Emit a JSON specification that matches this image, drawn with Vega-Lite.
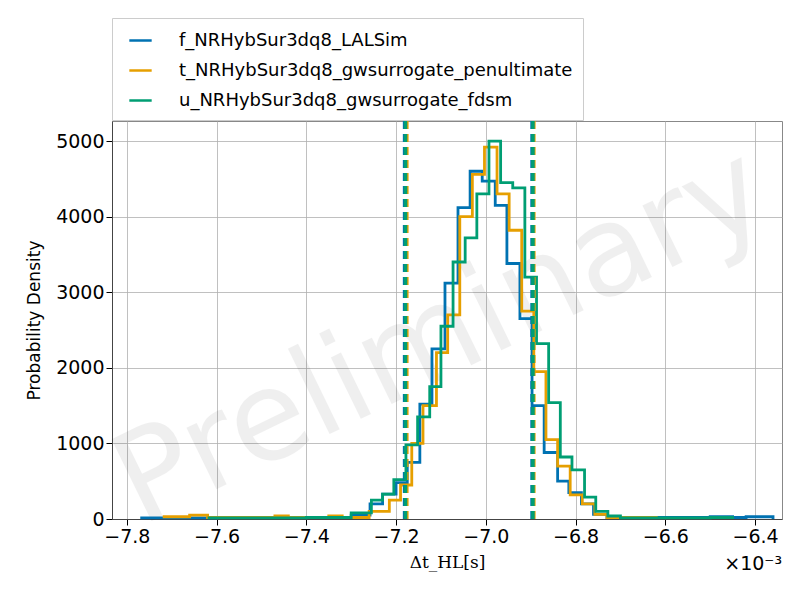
{
  "$schema": "https://vega.github.io/schema/vega-lite/v6.json",
  "width": 670,
  "height": 398,
  "autosize": "none",
  "padding": {"left": 112, "top": 121, "right": 18, "bottom": 81},
  "background": "white",
  "config": {"font": "DejaVu Sans", "view": {"stroke": "#888"},
    "axis": {"grid": true, "gridColor": "#b0b0b0", "gridWidth": 0.8, "labelFontSize": 19, "labelColor": "#000", "domainColor": "#444", "tickColor": "#000", "tickSize": 6, "titleFontWeight": "normal", "titleColor": "#000"}},
  "datasets": {
    "hist": [
      {"s": "f_NRHybSur3dq8_LALSim", "x": -7.77, "y": 15}, {"s": "f_NRHybSur3dq8_LALSim", "x": -7.60, "y": 20}, {"s": "f_NRHybSur3dq8_LALSim", "x": -7.45, "y": 20}, {"s": "f_NRHybSur3dq8_LALSim", "x": -7.30, "y": 50},
      {"s": "f_NRHybSur3dq8_LALSim", "x": -7.258, "y": 200}, {"s": "f_NRHybSur3dq8_LALSim", "x": -7.23, "y": 330}, {"s": "f_NRHybSur3dq8_LALSim", "x": -7.20, "y": 480}, {"s": "f_NRHybSur3dq8_LALSim", "x": -7.175, "y": 750},
      {"s": "f_NRHybSur3dq8_LALSim", "x": -7.147, "y": 1520}, {"s": "f_NRHybSur3dq8_LALSim", "x": -7.12, "y": 2250}, {"s": "f_NRHybSur3dq8_LALSim", "x": -7.091, "y": 3120}, {"s": "f_NRHybSur3dq8_LALSim", "x": -7.062, "y": 4120},
      {"s": "f_NRHybSur3dq8_LALSim", "x": -7.035, "y": 4600}, {"s": "f_NRHybSur3dq8_LALSim", "x": -7.008, "y": 4470}, {"s": "f_NRHybSur3dq8_LALSim", "x": -6.979, "y": 4150}, {"s": "f_NRHybSur3dq8_LALSim", "x": -6.953, "y": 3380},
      {"s": "f_NRHybSur3dq8_LALSim", "x": -6.924, "y": 2650}, {"s": "f_NRHybSur3dq8_LALSim", "x": -6.897, "y": 1500}, {"s": "f_NRHybSur3dq8_LALSim", "x": -6.87, "y": 880}, {"s": "f_NRHybSur3dq8_LALSim", "x": -6.84, "y": 500},
      {"s": "f_NRHybSur3dq8_LALSim", "x": -6.815, "y": 350}, {"s": "f_NRHybSur3dq8_LALSim", "x": -6.787, "y": 200}, {"s": "f_NRHybSur3dq8_LALSim", "x": -6.76, "y": 60}, {"s": "f_NRHybSur3dq8_LALSim", "x": -6.73, "y": 20},
      {"s": "f_NRHybSur3dq8_LALSim", "x": -6.55, "y": 20}, {"s": "f_NRHybSur3dq8_LALSim", "x": -6.50, "y": 30}, {"s": "f_NRHybSur3dq8_LALSim", "x": -6.45, "y": 20}, {"s": "f_NRHybSur3dq8_LALSim", "x": -6.42, "y": 30}, {"s": "f_NRHybSur3dq8_LALSim", "x": -6.36, "y": 0},

      {"s": "t_NRHybSur3dq8_gwsurrogate_penultimate", "x": -7.72, "y": 30}, {"s": "t_NRHybSur3dq8_gwsurrogate_penultimate", "x": -7.66, "y": 50}, {"s": "t_NRHybSur3dq8_gwsurrogate_penultimate", "x": -7.62, "y": 20}, {"s": "t_NRHybSur3dq8_gwsurrogate_penultimate", "x": -7.47, "y": 40},
      {"s": "t_NRHybSur3dq8_gwsurrogate_penultimate", "x": -7.44, "y": 20}, {"s": "t_NRHybSur3dq8_gwsurrogate_penultimate", "x": -7.35, "y": 40}, {"s": "t_NRHybSur3dq8_gwsurrogate_penultimate", "x": -7.32, "y": 20}, {"s": "t_NRHybSur3dq8_gwsurrogate_penultimate", "x": -7.26, "y": 100},
      {"s": "t_NRHybSur3dq8_gwsurrogate_penultimate", "x": -7.215, "y": 250}, {"s": "t_NRHybSur3dq8_gwsurrogate_penultimate", "x": -7.19, "y": 450}, {"s": "t_NRHybSur3dq8_gwsurrogate_penultimate", "x": -7.165, "y": 1000}, {"s": "t_NRHybSur3dq8_gwsurrogate_penultimate", "x": -7.14, "y": 1500},
      {"s": "t_NRHybSur3dq8_gwsurrogate_penultimate", "x": -7.11, "y": 2200}, {"s": "t_NRHybSur3dq8_gwsurrogate_penultimate", "x": -7.085, "y": 2700}, {"s": "t_NRHybSur3dq8_gwsurrogate_penultimate", "x": -7.058, "y": 4000}, {"s": "t_NRHybSur3dq8_gwsurrogate_penultimate", "x": -7.03, "y": 4560},
      {"s": "t_NRHybSur3dq8_gwsurrogate_penultimate", "x": -7.003, "y": 4920}, {"s": "t_NRHybSur3dq8_gwsurrogate_penultimate", "x": -6.975, "y": 4300}, {"s": "t_NRHybSur3dq8_gwsurrogate_penultimate", "x": -6.948, "y": 3820}, {"s": "t_NRHybSur3dq8_gwsurrogate_penultimate", "x": -6.92, "y": 2750},
      {"s": "t_NRHybSur3dq8_gwsurrogate_penultimate", "x": -6.893, "y": 1950}, {"s": "t_NRHybSur3dq8_gwsurrogate_penultimate", "x": -6.866, "y": 1050}, {"s": "t_NRHybSur3dq8_gwsurrogate_penultimate", "x": -6.84, "y": 700}, {"s": "t_NRHybSur3dq8_gwsurrogate_penultimate", "x": -6.812, "y": 320},
      {"s": "t_NRHybSur3dq8_gwsurrogate_penultimate", "x": -6.785, "y": 200}, {"s": "t_NRHybSur3dq8_gwsurrogate_penultimate", "x": -6.757, "y": 60}, {"s": "t_NRHybSur3dq8_gwsurrogate_penultimate", "x": -6.73, "y": 20}, {"s": "t_NRHybSur3dq8_gwsurrogate_penultimate", "x": -6.62, "y": 0},

      {"s": "u_NRHybSur3dq8_gwsurrogate_fdsm", "x": -7.62, "y": 15}, {"s": "u_NRHybSur3dq8_gwsurrogate_fdsm", "x": -7.40, "y": 20}, {"s": "u_NRHybSur3dq8_gwsurrogate_fdsm", "x": -7.30, "y": 80}, {"s": "u_NRHybSur3dq8_gwsurrogate_fdsm", "x": -7.255, "y": 250},
      {"s": "u_NRHybSur3dq8_gwsurrogate_fdsm", "x": -7.23, "y": 330}, {"s": "u_NRHybSur3dq8_gwsurrogate_fdsm", "x": -7.205, "y": 520}, {"s": "u_NRHybSur3dq8_gwsurrogate_fdsm", "x": -7.178, "y": 980}, {"s": "u_NRHybSur3dq8_gwsurrogate_fdsm", "x": -7.152, "y": 1350},
      {"s": "u_NRHybSur3dq8_gwsurrogate_fdsm", "x": -7.125, "y": 1750}, {"s": "u_NRHybSur3dq8_gwsurrogate_fdsm", "x": -7.1, "y": 2550}, {"s": "u_NRHybSur3dq8_gwsurrogate_fdsm", "x": -7.073, "y": 3400}, {"s": "u_NRHybSur3dq8_gwsurrogate_fdsm", "x": -7.046, "y": 3720},
      {"s": "u_NRHybSur3dq8_gwsurrogate_fdsm", "x": -7.02, "y": 4300}, {"s": "u_NRHybSur3dq8_gwsurrogate_fdsm", "x": -6.993, "y": 5000}, {"s": "u_NRHybSur3dq8_gwsurrogate_fdsm", "x": -6.967, "y": 4450}, {"s": "u_NRHybSur3dq8_gwsurrogate_fdsm", "x": -6.94, "y": 4380},
      {"s": "u_NRHybSur3dq8_gwsurrogate_fdsm", "x": -6.913, "y": 3200}, {"s": "u_NRHybSur3dq8_gwsurrogate_fdsm", "x": -6.887, "y": 2320}, {"s": "u_NRHybSur3dq8_gwsurrogate_fdsm", "x": -6.86, "y": 1540}, {"s": "u_NRHybSur3dq8_gwsurrogate_fdsm", "x": -6.834, "y": 820},
      {"s": "u_NRHybSur3dq8_gwsurrogate_fdsm", "x": -6.808, "y": 650}, {"s": "u_NRHybSur3dq8_gwsurrogate_fdsm", "x": -6.78, "y": 290}, {"s": "u_NRHybSur3dq8_gwsurrogate_fdsm", "x": -6.755, "y": 100}, {"s": "u_NRHybSur3dq8_gwsurrogate_fdsm", "x": -6.728, "y": 40},
      {"s": "u_NRHybSur3dq8_gwsurrogate_fdsm", "x": -6.70, "y": 15}, {"s": "u_NRHybSur3dq8_gwsurrogate_fdsm", "x": -6.50, "y": 20}, {"s": "u_NRHybSur3dq8_gwsurrogate_fdsm", "x": -6.45, "y": 0}
    ],
    "vlines": [
      {"s": "f_NRHybSur3dq8_LALSim", "x": -7.181}, {"s": "t_NRHybSur3dq8_gwsurrogate_penultimate", "x": -7.176}, {"s": "u_NRHybSur3dq8_gwsurrogate_fdsm", "x": -7.179},
      {"s": "f_NRHybSur3dq8_LALSim", "x": -6.897}, {"s": "t_NRHybSur3dq8_gwsurrogate_penultimate", "x": -6.893}, {"s": "u_NRHybSur3dq8_gwsurrogate_fdsm", "x": -6.895}
    ],
    "wm": [{"x": -7.1, "y": 2400, "t": "Preliminary"}]
  },
  "layer": [
    {
      "data": {"name": "wm"},
      "mark": {"type": "text", "fontSize": 125, "angle": 334, "color": "#000", "opacity": 0.06, "font": "DejaVu Sans"},
      "encoding": {"x": {"field": "x", "type": "quantitative"}, "y": {"field": "y", "type": "quantitative"}, "text": {"field": "t"}}
    },
    {
      "data": {"name": "hist"},
      "mark": {"type": "line", "interpolate": "step-after", "strokeWidth": 2.8},
      "encoding": {
        "x": {"field": "x", "type": "quantitative", "scale": {"domain": [-7.833, -6.34], "nice": false, "zero": false},
          "axis": {"values": [-7.8, -7.6, -7.4, -7.2, -7.0, -6.8, -6.6, -6.4], "format": ".1f", "title": "Δt_HL[s]", "titleFont": "DejaVu Serif", "titleFontSize": 17, "titlePadding": 8}},
        "y": {"field": "y", "type": "quantitative", "scale": {"domain": [0, 5265], "nice": false},
          "axis": {"values": [0, 1000, 2000, 3000, 4000, 5000], "format": "d", "title": "Probability Density", "titleFontSize": 17, "titlePadding": 12}},
        "color": {"field": "s", "type": "nominal",
          "scale": {"domain": ["f_NRHybSur3dq8_LALSim", "t_NRHybSur3dq8_gwsurrogate_penultimate", "u_NRHybSur3dq8_gwsurrogate_fdsm"], "range": ["#0072b2", "#e69f00", "#009e73"]},
          "legend": {"orient": "none", "legendX": 0, "legendY": -103, "title": null, "labelFontSize": 18, "symbolType": "stroke", "symbolStrokeWidth": 2.5, "symbolSize": 500, "strokeColor": "#ccc", "padding": 10, "rowPadding": 8, "labelOffset": 26, "labelLimit": 600, "symbolOffset": 6}},
        "order": {"field": "x", "type": "quantitative"}
      }
    },
    {
      "data": {"name": "vlines"},
      "mark": {"type": "rule", "strokeWidth": 3.5, "strokeDash": [8, 5]},
      "encoding": {"x": {"field": "x", "type": "quantitative"}, "color": {"field": "s", "type": "nominal"}}
    },
    {
      "data": {"values": [{"t": "×10⁻³"}]},
      "mark": {"type": "text", "fontSize": 19, "align": "right", "baseline": "top", "dy": 36, "clip": false},
      "encoding": {"x": {"datum": -6.34}, "y": {"datum": 0}, "text": {"field": "t"}}
    }
  ]
}
